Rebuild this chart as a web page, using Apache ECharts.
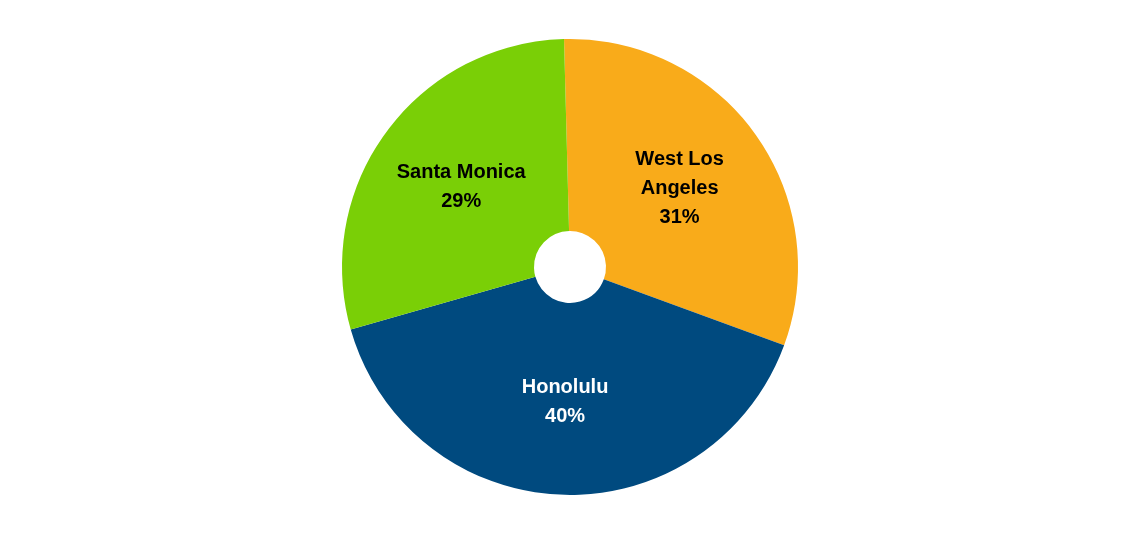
<!DOCTYPE html>
<html><head><meta charset="utf-8">
<script src="https://cdn.jsdelivr.net/npm/echarts@6/dist/echarts.min.js"></script>
<style>html,body{margin:0;padding:0;background:#fff}#c{width:1140px;height:536px}</style>
</head><body><div id="c"></div>
<script>
const categories = ["West Los Angeles", "Honolulu", "Santa Monica"];
const labelNames = ["West Los\nAngeles", "Honolulu", "Santa Monica"];
const values = [31, 40, 29];
const colors = ["#F9AB1A", "#004A7F", "#7ACF06"];
const labelColors = ["#000", "#fff", "#000"];
const chart = echarts.init(document.getElementById('c'));
chart.setOption({
  animation: false,
  series: [{
    type: 'pie',
    center: [570, 267],
    radius: [36, 228],
    startAngle: 91.5,
    clockwise: true,
    label: { position: 'inside', fontFamily: 'Liberation Sans, Arial, sans-serif', fontSize: 20, fontWeight: 'bold', lineHeight: 29, align: 'left' },
    labelLine: { show: false },
    data: categories.map((c, i) => ({
      name: c, value: values[i],
      itemStyle: { color: colors[i] },
      label: { color: labelColors[i], formatter: labelNames[i] + '\n' + values[i] + '%' }
    }))
  }]
});
</script></body></html>
